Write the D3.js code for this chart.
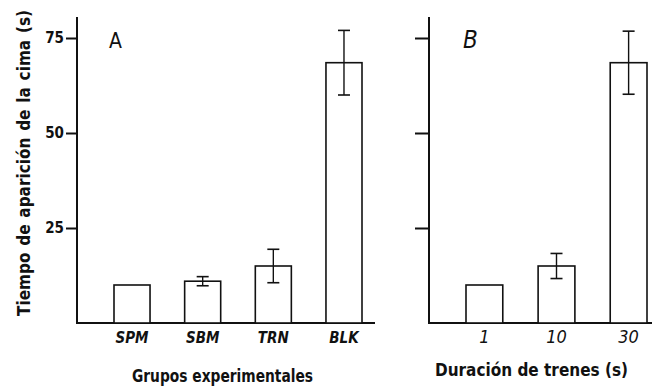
<!DOCTYPE html>
<html>
<head>
<meta charset="utf-8">
<script src="https://cdn.jsdelivr.net/npm/d3@7"></script>
<style>
  body { margin: 0; background: #fff; }
  text { font-family: "DejaVu Sans Condensed", "DejaVu Sans", sans-serif; font-stretch: condensed; fill: #111; }
</style>
</head>
<body>
<div id="chart"></div>
<script>
// panel A: experimental groups
const groupsA = ["SPM", "SBM", "TRN", "BLK"];
const meansA = [10, 11, 15, 68.5];
const errA = [0, 1.2, 4.4, 8.5];

// panel B: train durations (s)
const groupsB = ["1", "10", "30"];
const meansB = [10, 15, 68.5];
const errB = [0, 3.3, 8.3];

const yTicks = [25, 50, 75];

const W = 653, H = 387;
const svg = d3.select("#chart").append("svg")
  .attr("width", W).attr("height", H);

const y = d3.scaleLinear().domain([0, 80]).range([323, 19]);

// spread words out (like the typed original) to a target width
function spreadWords(sel, target) {
  const node = sel.node();
  const natural = node.getComputedTextLength();
  const gaps = (node.textContent.match(/ /g) || []).length;
  if (gaps && natural < target) sel.style("word-spacing", ((target - natural) / gaps) + "px");
  else if (natural > target) sel.attr("textLength", target).attr("lengthAdjust", "spacingAndGlyphs");
}

function panel(opts) {
  const g = svg.append("g");
  const x = d3.scaleBand().domain(opts.cats).range(opts.barRange)
    .paddingInner(0.49).paddingOuter(0);

  // y axis
  const ax = d3.axisLeft(y).tickValues(yTicks).tickSize(opts.tickLen).tickPadding(2)
    .tickFormat(opts.labels ? d3.format("d") : "");
  const ga = g.append("g").attr("transform", `translate(${opts.x0},0)`).call(ax);
  ga.select(".domain").remove();
  ga.selectAll(".tick line").attr("stroke", "#111").attr("stroke-width", 2);
  ga.selectAll(".tick text").attr("font-size", 15).attr("font-weight", "bold")
    .attr("fill", "#111");
  g.append("line").attr("x1", opts.x0).attr("x2", opts.x0)
    .attr("y1", 17).attr("y2", y(0) + 1)
    .attr("stroke", "#111").attr("stroke-width", 2);
  // baseline
  g.append("line").attr("x1", opts.x0).attr("x2", opts.x1)
    .attr("y1", y(0)).attr("y2", y(0))
    .attr("stroke", "#111").attr("stroke-width", 2);

  // bars
  g.selectAll("rect.bar").data(opts.cats).join("rect")
    .attr("class", "bar")
    .attr("x", d => x(d)).attr("width", x.bandwidth())
    .attr("y", (d, i) => y(opts.means[i]))
    .attr("height", (d, i) => y(0) - y(opts.means[i]))
    .attr("fill", "#fff").attr("stroke", "#111").attr("stroke-width", 1.6);

  // error bars
  const eb = g.selectAll("g.err").data(opts.cats.filter((d, i) => opts.errs[i] > 0))
    .join("g").attr("class", "err");
  const idx = d => opts.cats.indexOf(d);
  eb.append("line")
    .attr("x1", d => x(d) + x.bandwidth() / 2).attr("x2", d => x(d) + x.bandwidth() / 2)
    .attr("y1", d => y(opts.means[idx(d)] + opts.errs[idx(d)]))
    .attr("y2", d => y(opts.means[idx(d)] - opts.errs[idx(d)]))
    .attr("stroke", "#111").attr("stroke-width", 1.4);
  [1, -1].forEach(s => {
    eb.append("line")
      .attr("x1", d => x(d) + x.bandwidth() / 2 - 6).attr("x2", d => x(d) + x.bandwidth() / 2 + 6)
      .attr("y1", d => y(opts.means[idx(d)] + s * opts.errs[idx(d)]))
      .attr("y2", d => y(opts.means[idx(d)] + s * opts.errs[idx(d)]))
      .attr("stroke", "#111").attr("stroke-width", 1.6);
  });

  // category labels
  g.selectAll("text.cat").data(opts.cats).join("text")
    .attr("class", "cat")
    .attr("x", d => x(d) + x.bandwidth() / 2).attr("y", 343)
    .attr("text-anchor", "middle")
    .attr("font-size", opts.catSize).attr("font-weight", opts.catWeight)
    .attr("font-style", "italic")
    .text(d => d);

  // panel letter
  g.append("text").attr("x", opts.letterX).attr("y", 48)
    .attr("font-size", opts.letterSize).attr("font-style", opts.letterItalic ? "italic" : "normal")
    .text(opts.letter);

  // x title
  const t = g.append("text").attr("x", opts.titleX).attr("y", opts.titleY)
    .attr("font-size", 17).attr("font-weight", "bold")
    .text(opts.title);
  spreadWords(t, opts.titleLen);
}

panel({
  cats: groupsA, means: meansA, errs: errA,
  x0: 77, x1: 375, barRange: [114, 362], tickLen: 11, labels: true,
  catSize: 15, catWeight: "bold",
  letter: "A", letterX: 109, letterSize: 21, letterItalic: false,
  title: "Grupos experimentales", titleX: 132, titleY: 382, titleLen: 181
});

panel({
  cats: groupsB, means: meansB, errs: errB,
  x0: 429, x1: 652, barRange: [466, 647], tickLen: 14, labels: false,
  catSize: 18, catWeight: "normal",
  letter: "B", letterX: 463, letterSize: 24, letterItalic: true,
  title: "Duración de trenes (s)", titleX: 435, titleY: 376, titleLen: 193
});

// y title
const yt = svg.append("text")
  .attr("transform", "translate(30,316) rotate(-90)")
  .attr("font-size", 17).attr("font-weight", "bold")
  .text("Tiempo de aparición de la cima (s)");
spreadWords(yt, 306);
</script>
</body>
</html>
